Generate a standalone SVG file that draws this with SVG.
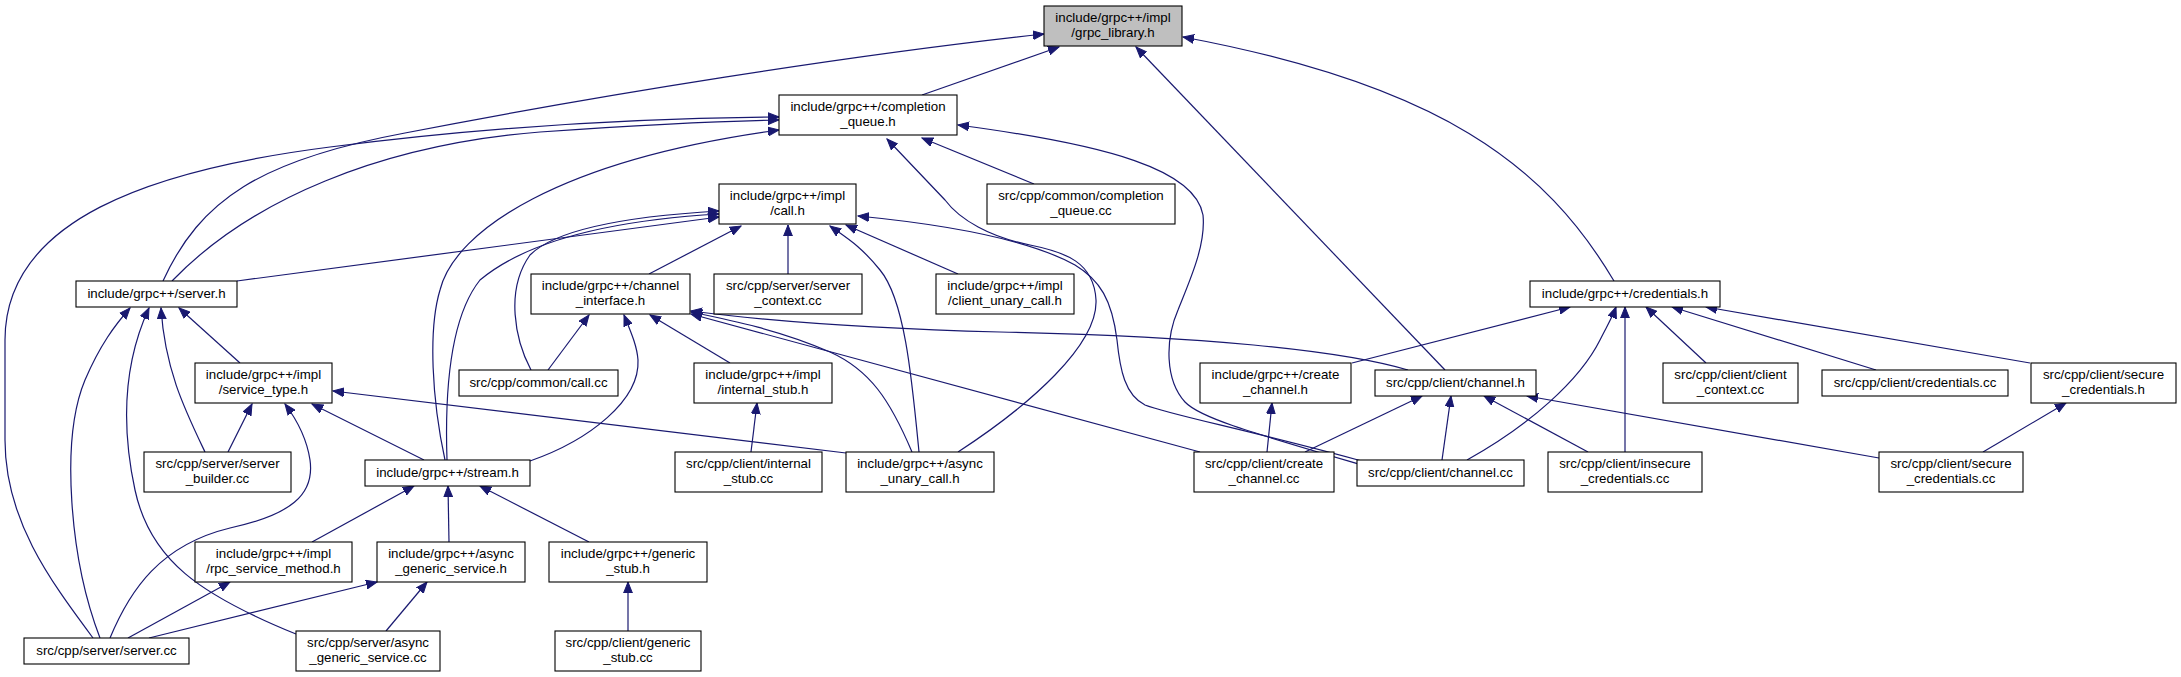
<svg xmlns="http://www.w3.org/2000/svg" width="2181" height="677" viewBox="0 0 2181 677">
<style>
rect.n{fill:#fff;stroke:#000;stroke-width:1.1}
rect.g{fill:#bfbfbf;stroke:#000;stroke-width:1.1}
text{font-family:"Liberation Sans",Arial,sans-serif;font-size:13.3px;fill:#000;text-anchor:middle}
.e path{fill:none;stroke:#191970;stroke-width:1.2;marker-end:url(#ah)}
</style>
<defs>
<marker id="ah" markerWidth="12" markerHeight="10" refX="11" refY="5" orient="auto" markerUnits="userSpaceOnUse">
<path d="M0,0.6 L11,5 L0,9.4 z" fill="#191970" stroke="#191970" stroke-width="1"/>
</marker>
</defs>
<rect width="2181" height="677" fill="#fff"/>
<g class="e" id="edges">
<path d="M163,281 C200,200 260,160 405,133 C600,95 850,55 1044,34"/>
<path d="M922,95 L1059,47"/>
<path d="M1445,370 L1136,47"/>
<path d="M1614,281 C1545,165 1440,85 1183,37"/>
<path d="M93,638 C50,580 5,520 5,440 L5,340 C5,220 150,170 330,147 C500,125 650,118 779,117"/>
<path d="M172,281 C250,200 380,145 540,132 C640,125 720,121 779,120"/>
<path d="M445,460 C432,400 428,330 440,290 C455,230 560,160 779,130"/>
<path d="M447,460 C445,400 448,320 480,280 C540,230 650,218 719,214"/>
<path d="M1034,184 L922,138"/>
<path d="M958,452 C1030,405 1098,345 1096,300 C1094,262 1065,252 1030,245 C990,237 960,220 945,200 L887,139"/>
<path d="M1369,467 C1250,432 1200,418 1185,402 C1165,380 1165,340 1178,310 C1190,280 1206,245 1203,215 C1195,170 1110,145 958,125"/>
<path d="M237,281 L719,217"/>
<path d="M531,370 C515,340 505,290 530,255 C560,225 650,215 719,211"/>
<path d="M649,274 L741,226"/>
<path d="M788,274 L788,225"/>
<path d="M919,452 C912,380 905,300 880,270 C860,245 845,237 830,226"/>
<path d="M958,274 L846,225"/>
<path d="M1369,463 C1250,430 1170,415 1145,405 C1125,395 1120,370 1117,340 C1112,300 1100,280 1075,265 C1030,240 950,225 858,216"/>
<path d="M548,370 L589,315"/>
<path d="M530,461 C590,440 640,400 638,360 C637,345 630,330 624,315"/>
<path d="M730,363 L650,315"/>
<path d="M912,452 C890,400 870,370 830,352 C780,330 730,320 691,312"/>
<path d="M1200,452 L691,314"/>
<path d="M1408,370 C1340,350 1200,336 1000,332 C850,328 760,320 691,311"/>
<path d="M240,363 L179,308"/>
<path d="M205,452 C185,410 165,370 161,308"/>
<path d="M296,634 C200,595 150,560 135,490 C120,420 125,360 149,308"/>
<path d="M100,638 C70,560 60,440 85,380 C100,345 115,325 130,308"/>
<path d="M228,452 L252,404"/>
<path d="M110,638 C130,590 160,545 230,528 C290,515 315,495 310,460 C307,440 297,420 285,404"/>
<path d="M424,460 L312,404"/>
<path d="M846,453 L333,391"/>
<path d="M312,542 L414,486"/>
<path d="M449,542 L448,486"/>
<path d="M589,542 L480,486"/>
<path d="M128,638 L230,582"/>
<path d="M149,638 L377,582"/>
<path d="M386,631 L427,582"/>
<path d="M628,631 L628,582"/>
<path d="M751,452 L757,403"/>
<path d="M1352,363 L1570,307"/>
<path d="M1467,460 C1530,425 1580,380 1600,340 C1607,326 1612,318 1616,307"/>
<path d="M1625,452 L1625,307"/>
<path d="M1706,363 L1646,307"/>
<path d="M1876,370 L1672,307"/>
<path d="M2030,363 L1706,307"/>
<path d="M1267,452 L1272,403"/>
<path d="M1305,452 L1422,396"/>
<path d="M1442,460 L1451,396"/>
<path d="M1588,452 L1484,396"/>
<path d="M1879,458 L1527,396"/>
<path d="M1983,452 L2066,403"/>
</g>
<g id="grpc_library_h"><rect class="g" x="1044" y="6" width="138" height="40"/><text x="1113" y="22">include/grpc++/impl</text><text x="1113" y="37">/grpc_library.h</text></g>
<g id="completion_queue_h"><rect class="n" x="779" y="95" width="178" height="40"/><text x="868" y="111">include/grpc++/completion</text><text x="868" y="126">_queue.h</text></g>
<g id="call_h"><rect class="n" x="719" y="184" width="137" height="40"/><text x="787.5" y="200">include/grpc++/impl</text><text x="787.5" y="215">/call.h</text></g>
<g id="completion_queue_cc"><rect class="n" x="987" y="184" width="188" height="40"/><text x="1081" y="200">src/cpp/common/completion</text><text x="1081" y="215">_queue.cc</text></g>
<g id="server_h"><rect class="n" x="76" y="281" width="161" height="26"/><text x="156.5" y="298">include/grpc++/server.h</text></g>
<g id="channel_interface_h"><rect class="n" x="531" y="274" width="159" height="40"/><text x="610.5" y="290">include/grpc++/channel</text><text x="610.5" y="305">_interface.h</text></g>
<g id="server_context_cc"><rect class="n" x="714" y="274" width="148" height="40"/><text x="788" y="290">src/cpp/server/server</text><text x="788" y="305">_context.cc</text></g>
<g id="client_unary_call_h"><rect class="n" x="936" y="274" width="138" height="40"/><text x="1005" y="290">include/grpc++/impl</text><text x="1005" y="305">/client_unary_call.h</text></g>
<g id="credentials_h"><rect class="n" x="1530" y="281" width="190" height="26"/><text x="1625" y="298">include/grpc++/credentials.h</text></g>
<g id="service_type_h"><rect class="n" x="195" y="363" width="137" height="40"/><text x="263.5" y="379">include/grpc++/impl</text><text x="263.5" y="394">/service_type.h</text></g>
<g id="call_cc"><rect class="n" x="459" y="370" width="159" height="26"/><text x="538.5" y="387">src/cpp/common/call.cc</text></g>
<g id="internal_stub_h"><rect class="n" x="694" y="363" width="138" height="40"/><text x="763" y="379">include/grpc++/impl</text><text x="763" y="394">/internal_stub.h</text></g>
<g id="create_channel_h"><rect class="n" x="1200" y="363" width="151" height="40"/><text x="1275.5" y="379">include/grpc++/create</text><text x="1275.5" y="394">_channel.h</text></g>
<g id="channel_h"><rect class="n" x="1375" y="370" width="161" height="26"/><text x="1455.5" y="387">src/cpp/client/channel.h</text></g>
<g id="client_context_cc"><rect class="n" x="1663" y="363" width="135" height="40"/><text x="1730.5" y="379">src/cpp/client/client</text><text x="1730.5" y="394">_context.cc</text></g>
<g id="credentials_cc"><rect class="n" x="1822" y="370" width="186" height="26"/><text x="1915" y="387">src/cpp/client/credentials.cc</text></g>
<g id="secure_credentials_h"><rect class="n" x="2031" y="363" width="145" height="40"/><text x="2103.5" y="379">src/cpp/client/secure</text><text x="2103.5" y="394">_credentials.h</text></g>
<g id="server_builder_cc"><rect class="n" x="144" y="452" width="147" height="40"/><text x="217.5" y="468">src/cpp/server/server</text><text x="217.5" y="483">_builder.cc</text></g>
<g id="stream_h"><rect class="n" x="365" y="460" width="165" height="26"/><text x="447.5" y="477">include/grpc++/stream.h</text></g>
<g id="internal_stub_cc"><rect class="n" x="675" y="452" width="147" height="40"/><text x="748.5" y="468">src/cpp/client/internal</text><text x="748.5" y="483">_stub.cc</text></g>
<g id="async_unary_call_h"><rect class="n" x="846" y="452" width="148" height="40"/><text x="920" y="468">include/grpc++/async</text><text x="920" y="483">_unary_call.h</text></g>
<g id="create_channel_cc"><rect class="n" x="1194" y="452" width="140" height="40"/><text x="1264" y="468">src/cpp/client/create</text><text x="1264" y="483">_channel.cc</text></g>
<g id="channel_cc"><rect class="n" x="1357" y="460" width="167" height="26"/><text x="1440.5" y="477">src/cpp/client/channel.cc</text></g>
<g id="insecure_credentials_cc"><rect class="n" x="1548" y="452" width="154" height="40"/><text x="1625" y="468">src/cpp/client/insecure</text><text x="1625" y="483">_credentials.cc</text></g>
<g id="secure_credentials_cc"><rect class="n" x="1879" y="452" width="144" height="40"/><text x="1951" y="468">src/cpp/client/secure</text><text x="1951" y="483">_credentials.cc</text></g>
<g id="rpc_service_method_h"><rect class="n" x="195" y="542" width="157" height="40"/><text x="273.5" y="558">include/grpc++/impl</text><text x="273.5" y="573">/rpc_service_method.h</text></g>
<g id="async_generic_service_h"><rect class="n" x="377" y="542" width="148" height="40"/><text x="451" y="558">include/grpc++/async</text><text x="451" y="573">_generic_service.h</text></g>
<g id="generic_stub_h"><rect class="n" x="549" y="542" width="158" height="40"/><text x="628" y="558">include/grpc++/generic</text><text x="628" y="573">_stub.h</text></g>
<g id="server_cc"><rect class="n" x="24" y="638" width="165" height="26"/><text x="106.5" y="655">src/cpp/server/server.cc</text></g>
<g id="async_generic_service_cc"><rect class="n" x="296" y="631" width="144" height="40"/><text x="368" y="647">src/cpp/server/async</text><text x="368" y="662">_generic_service.cc</text></g>
<g id="generic_stub_cc"><rect class="n" x="555" y="631" width="146" height="40"/><text x="628" y="647">src/cpp/client/generic</text><text x="628" y="662">_stub.cc</text></g>
</svg>
